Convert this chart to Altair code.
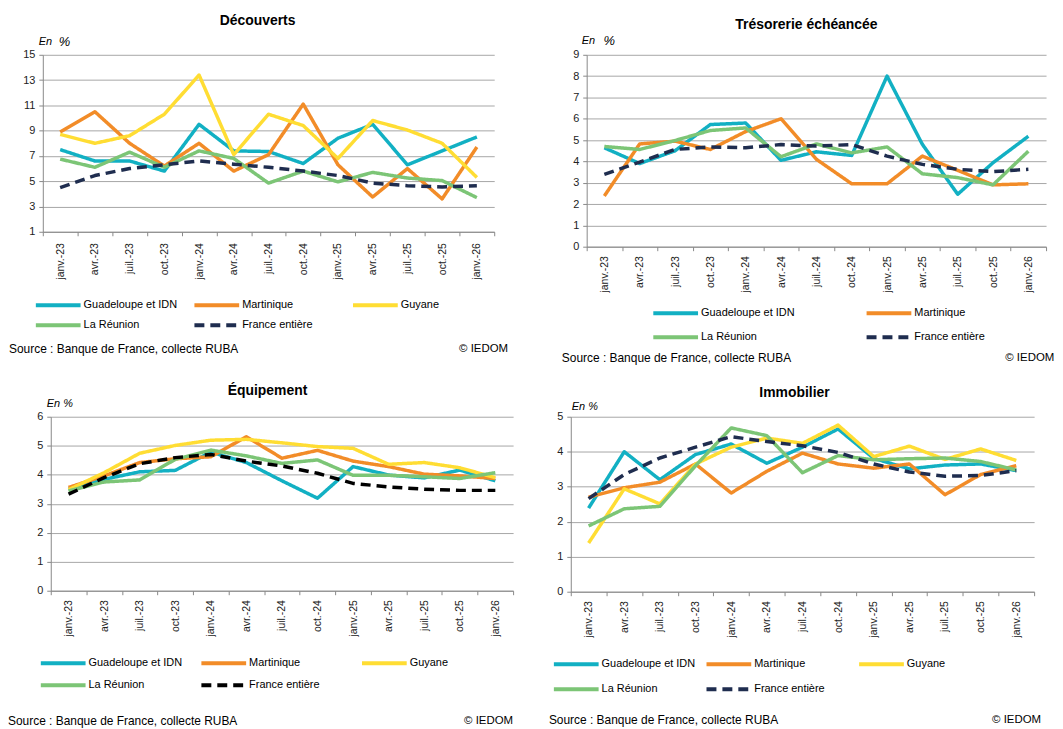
import altair as alt
import pandas as pd

# ---------------- data ----------------
mois = ["janv.-23", "avr.-23", "juil.-23", "oct.-23", "janv.-24", "avr.-24", "juil.-24",
        "oct.-24", "janv.-25", "avr.-25", "juil.-25", "oct.-25", "janv.-26"]

noms = ["Guadeloupe et IDN", "Martinique", "Guyane", "La Réunion", "France entière"]

# Découverts
gua_dec = [7.5, 6.6, 6.6, 5.8, 9.5, 7.4, 7.35, 6.4, 8.4, 9.5, 6.3, 7.4, 8.5]
mar_dec = [8.9, 10.5, 8.0, 6.2, 8.0, 5.8, 7.1, 11.1, 6.3, 3.75, 6.0, 3.6, 7.7]
guy_dec = [8.7, 8.0, 8.6, 10.3, 13.4, 7.1, 10.3, 9.4, 6.8, 9.8, 9.05, 8.0, 5.3]
reu_dec = [6.75, 6.1, 7.3, 6.1, 7.4, 6.8, 4.85, 5.8, 4.95, 5.7, 5.25, 5.05, 3.7]
fra_dec = [4.5, 5.45, 6.0, 6.3, 6.6, 6.35, 6.1, 5.8, 5.45, 4.85, 4.65, 4.55, 4.65]

# Trésorerie échéancée (pas de Guyane)
gua_tre = [4.64, 3.9, 4.5, 5.73, 5.8, 4.05, 4.45, 4.28, 8.0, 4.8, 2.46, 3.94, 5.18]
mar_tre = [2.38, 4.82, 4.95, 4.56, 5.4, 6.0, 4.1, 2.95, 2.95, 4.25, 3.58, 2.9, 2.95]
reu_tre = [4.7, 4.56, 4.98, 5.45, 5.57, 4.22, 4.82, 4.4, 4.68, 3.42, 3.24, 2.9, 4.48]
fra_tre = [3.39, 3.97, 4.56, 4.68, 4.64, 4.79, 4.72, 4.79, 4.25, 3.86, 3.63, 3.52, 3.63]

# Équipement
gua_equ = [3.5, 3.84, 4.1, 4.15, 4.78, 4.42, 3.79, 3.19, 4.28, 3.99, 3.89, 4.16, 3.79]
mar_equ = [3.56, 3.96, 4.42, 4.55, 4.62, 5.31, 4.57, 4.84, 4.47, 4.28, 4.02, 3.96, 3.87]
guy_equ = [3.48, 4.07, 4.74, 5.01, 5.19, 5.22, 5.1, 4.97, 4.91, 4.36, 4.42, 4.24, 3.9]
reu_equ = [3.44, 3.75, 3.82, 4.53, 4.85, 4.65, 4.39, 4.51, 3.98, 3.98, 3.93, 3.87, 4.07]
fra_equ = [3.33, 3.9, 4.38, 4.59, 4.7, 4.47, 4.3, 4.05, 3.7, 3.58, 3.5, 3.46, 3.46]

# Immobilier
gua_imm = [2.39, 4.0, 3.2, 3.92, 4.22, 3.67, 4.13, 4.65, 3.81, 3.51, 3.62, 3.65, 3.46]
mar_imm = [2.7, 2.97, 3.13, 3.65, 2.82, 3.44, 3.96, 3.65, 3.53, 3.65, 2.77, 3.35, 3.6]
guy_imm = [1.39, 2.94, 2.51, 3.65, 4.13, 4.39, 4.24, 4.76, 3.86, 4.16, 3.78, 4.08, 3.75]
reu_imm = [1.88, 2.37, 2.44, 3.6, 4.68, 4.46, 3.4, 3.89, 3.77, 3.8, 3.82, 3.72, 3.48]
fra_imm = [2.66, 3.35, 3.82, 4.13, 4.43, 4.29, 4.17, 3.98, 3.65, 3.42, 3.3, 3.32, 3.46]

# ---------------- styles ----------------
C_GUA, C_MAR, C_GUY, C_REU = "#12B0C3", "#F28C28", "#FFDD33", "#7CC576"
C_FRA, C_FRA_EQU = "#1F2D4F", "#000000"
SOLID, DASH = [1, 0], [10, 6]
FONT = "Liberation Sans"
SOURCE = "Source : Banque de France, collecte RUBA"


def long_df(names, values):
    rows = []
    for n, vals in zip(names, values):
        for m, v in zip(mois, vals):
            rows.append({"mois": m, "serie": n, "valeur": v})
    return pd.DataFrame(rows)


one = pd.DataFrame({"k": [0]})


def txt(text, x, y, size=11, weight="normal", style="normal", align="left", opacity=1):
    return alt.Chart(one).mark_text(
        text=text, font=FONT, fontSize=size, fontWeight=weight, fontStyle=style,
        align=align, baseline="middle", color="#000000", opacity=opacity
    ).encode(x=alt.value(x), y=alt.value(y))


def panel(p):
    df = long_df(p["names"], p["values"])
    ticks = list(range(p["ymin"], p["ymax"] + 1, p["step"]))
    s = p.get("shift", 0)
    legend = alt.Legend(
        title=None, orient="none", legendX=p["legX"], legendY=p["legY"],
        direction="horizontal",
        columns=p["cols"], symbolType="stroke", symbolSize=45 * 45,
        symbolStrokeWidth=4, clipHeight=13, rowPadding=p["rowPad"],
        columnPadding=p["colPad"], gridAlign="all", labelFont=FONT,
        labelFontSize=11, labelColor="#000000", labelOffset=1, padding=0,
        labelLimit=0,
    )
    xscale = alt.Scale(type="band", paddingInner=0, paddingOuter=0)
    if s:
        xscale = alt.Scale(type="band", paddingInner=0, paddingOuter=0,
                           range=[s, s + p["w"]])
    lines = alt.Chart(df).mark_line(strokeWidth=3.5, strokeJoin="round").encode(
        x=alt.X("mois:N", sort=mois, bandPosition=0.5, scale=xscale,
                axis=alt.Axis(title=None, labelAngle=270, tickBand="extent",
                              domainColor="#888888", tickColor="#888888",
                              tickSize=4, labelFont=FONT, labelFontSize=10.5,
                              labelColor="#222222", labelPadding=p["xPad"],
                              grid=False)),
        y=alt.Y("valeur:Q",
                scale=alt.Scale(domain=[p["ymin"], p["ymax"]], nice=False, zero=False),
                axis=alt.Axis(title=None, values=ticks, grid=True, offset=-s,
                              gridColor="#A6A6A6", gridWidth=1,
                              domainColor="#888888", tickColor="#888888",
                              tickSize=4, labelFont=FONT, labelFontSize=11,
                              labelColor="#222222", labelPadding=4)),
        color=alt.Color("serie:N", sort=p["names"],
                        scale=alt.Scale(domain=p["names"], range=p["colors"]),
                        legend=legend),
        strokeDash=alt.StrokeDash("serie:N", sort=p["names"],
                                  scale=alt.Scale(domain=p["names"], range=p["dashes"]),
                                  legend=legend),
    )
    texts = [
        txt(p["title"], p["tx"], p["ty"], size=14, weight="bold", align="center"),
        txt(p["en"], p["ex"], p["ey"], size=11, style="italic"),
        txt(SOURCE, p["sx"], p["sy"], size=12),
        txt("© IEDOM", p["ix"], p["sy"], size=11.5, align=p["ialign"]),
    ]
    if "pct" in p:
        texts.append(txt("%", p["pct"], p["ey"], size=13, style="italic"))
    if "padx" in p:
        # invisible spacer that only widens the panel's bounds
        texts.append(txt(".", p["padx"], p["sy"], size=11.5, opacity=0))
    return alt.layer(lines, *texts).properties(width=p["w"] + s, height=p["h"])


all5 = noms
col5 = [C_GUA, C_MAR, C_GUY, C_REU, C_FRA]
dash5 = [SOLID, SOLID, SOLID, SOLID, DASH]
four = ["Guadeloupe et IDN", "Martinique", "La Réunion", "France entière"]

A = panel(dict(names=all5, values=[gua_dec, mar_dec, guy_dec, reu_dec, fra_dec],
               colors=col5, dashes=dash5, ymin=1, ymax=15, step=2, w=454, h=178,
               title="Découverts", tx=216, ty=-34, en="En", pct=16, ex=-4, ey=-13,
               sx=-34, sy=296, ix=468, ialign="right",
               legX=-9, legY=245.5, cols=3, rowPad=7, colPad=14.5, xPad=7))
B = panel(dict(names=four, values=[gua_tre, mar_tre, reu_tre, fra_tre],
               colors=[C_GUA, C_MAR, C_REU, C_FRA], dashes=[SOLID, SOLID, SOLID, DASH],
               ymin=0, ymax=9, step=1, w=462, h=193,
               title="Trésorerie échéancée", tx=221, ty=-30, en="En", pct=17,
               ex=-5, ey=-14,
               sx=-25, sy=305, ix=421, ialign="left", padx=-40,
               legX=65, legY=253.5, cols=2, rowPad=11, colPad=69.5, xPad=5))
C = panel(dict(names=all5, values=[gua_equ, mar_equ, guy_equ, reu_equ, fra_equ],
               colors=[C_GUA, C_MAR, C_GUY, C_REU, C_FRA_EQU], dashes=dash5,
               ymin=0, ymax=6, step=1, w=465, h=175, shift=8,
               title="Équipement", tx=226, ty=-26, en="En %", ex=4, ey=-13,
               sx=-35, sy=306, ix=473, ialign="right",
               legX=-4, legY=241.5, cols=3, rowPad=9, colPad=16.5, xPad=5))
D = panel(dict(names=all5, values=[gua_imm, mar_imm, guy_imm, reu_imm, fra_imm],
               colors=col5, dashes=dash5, ymin=0, ymax=5, step=1, w=466, h=176,
               title="Immobilier", tx=225, ty=-24, en="En %", ex=1, ey=-10,
               sx=-22, sy=305, ix=473, ialign="right", padx=-24,
               legX=-19, legY=242.5, cols=3, rowPad=12, colPad=8.5, xPad=5))

ind = dict(color="independent", strokeDash="independent", x="independent", y="independent")
chart = (
    alt.concat(A, B, C, D, columns=2,
               spacing={"row": 20, "column": 33},
               align={"row": "each", "column": "none"})
    .resolve_scale(**ind)
    .properties(padding={"left": 0, "top": 4, "right": 0, "bottom": 0},
                background="white")
    .configure_view(strokeWidth=0)
)

chart.save("out.html", embed_options={"renderer": "svg", "actions": False})
